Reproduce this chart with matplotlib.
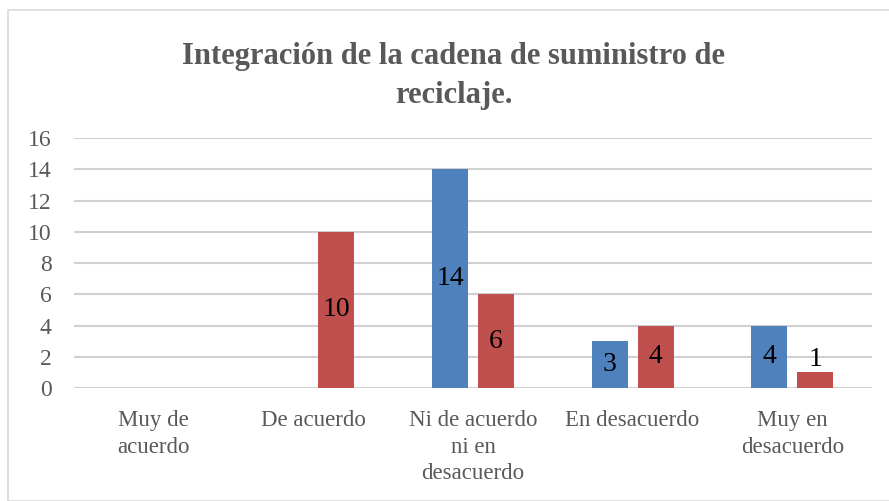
import matplotlib.pyplot as plt
import numpy as np
from matplotlib.patches import Rectangle

categories = ["Muy de\nacuerdo", "De acuerdo", "Ni de acuerdo\nni en\ndesacuerdo",
              "En desacuerdo", "Muy en\ndesacuerdo"]
serie_azul = [0, 0, 14, 3, 4]
serie_roja = [0, 10, 6, 4, 1]
yticks = [0, 2, 4, 6, 8, 10, 12, 14, 16]

colorScheme = ["#4F81BD", "#C0504D"]
bar_width = 0.225
offset = 0.144

plt.rcParams["font.family"] = ["Liberation Serif", "DejaVu Serif"]

fig = plt.figure(figsize=(8.89, 5.01), dpi=100)
ax = fig.add_axes([74 / 889, 1 - 388 / 501, 798 / 889, 250 / 501])

x = np.arange(len(categories))
bars_a = ax.bar(x - offset, serie_azul, width=bar_width, color=colorScheme[0], zorder=3)
bars_r = ax.bar(x + offset, serie_roja, width=bar_width, color=colorScheme[1], zorder=3)

for bars, vals in [(bars_a, serie_azul), (bars_r, serie_roja)]:
	for b, v in zip(bars, vals):
		if v == 0:
			continue
		cx = b.get_x() + b.get_width() / 2
		if v < 2:
			# etiqueta no cabe dentro de la barra
			ax.text(cx, v, str(v), ha="center", va="bottom", fontsize=20, color="black", zorder=4)
		else:
			ax.text(cx, v / 2, str(v), ha="center", va="center", fontsize=20, color="black", zorder=4)

ax.set_xlim(-0.5, len(categories) - 0.5)
ax.set_ylim(0, 16)
ax.set_yticks(yticks)
ax.set_yticklabels([str(t) for t in yticks], fontsize=17, color="#595959")
ax.set_xticks(x)
ax.set_xticklabels(categories, fontsize=16.5, color="#595959", va="top", linespacing=1.35)
ax.tick_params(axis="y", length=0, pad=16)
ax.tick_params(axis="x", length=0, pad=16)
ax.grid(axis="y", color="#D0D0D0", linewidth=1.5, zorder=0)
for s in ax.spines.values():
	s.set_visible(False)

fig.text(0.51, 1 - 76 / 501, "Integración de la cadena de suministro de\nreciclaje.",
		 ha="center", va="center", fontsize=22, fontweight="bold", color="#595959",
		 linespacing=1.45)

fig.patches.append(Rectangle((8 / 889, 0), 1, 1 - 10 / 501, transform=fig.transFigure,
							 fill=False, edgecolor="#D9D9D9", linewidth=1.2))

fig.savefig("out.png", dpi=100)
